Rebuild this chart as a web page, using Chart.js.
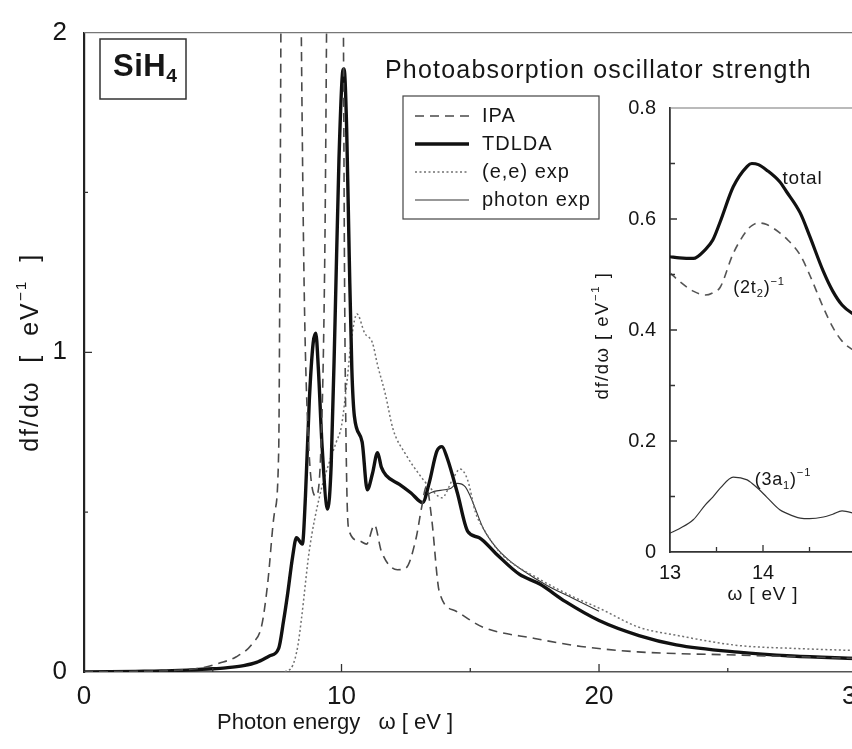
<!DOCTYPE html>
<html>
<head>
<meta charset="utf-8">
<script src="https://cdn.jsdelivr.net/npm/chart.js@4"></script>
<style>
  html, body { margin: 0; padding: 0; background: #fff; overflow: hidden; }
  #wrap { position: relative; width: 852px; height: 749px; overflow: hidden; background: #fff; }
  #main { position: absolute; left: 0; top: 0; }
  #inset { position: absolute; left: 560px; top: 80px; }
</style>
</head>
<body>
<div id="wrap">
  <canvas id="main" width="880" height="749"></canvas>
  <canvas id="inset" width="320" height="560"></canvas>
</div>
<script>
// ---- main panel: oscillator strength df/dw vs photon energy ----
const ipaEnergy = [0, 2, 3.5, 4.5, 5.27, 5.9, 6.55, 6.9, 7.13, 7.4, 7.56, 7.62, 7.68, 8.0, 8.38, 8.45, 8.55, 8.7, 9.0, 9.2, 9.35, 9.48, 9.8, 10.05, 10.12, 10.2, 10.3, 10.7, 10.97, 11.28, 11.55, 12.17, 12.5, 12.9, 13.1, 13.3, 13.5, 13.8, 14.45, 15.5, 17.5, 19.3, 21.5, 25.4, 29.7, 30];
const ipaValue  = [0, 0.002, 0.005, 0.012, 0.028, 0.047, 0.09, 0.145, 0.275, 0.5, 0.69, 1.5, 2.6, 3.5, 2.6, 1.9, 1.2, 0.75, 0.55, 0.7, 1.3, 2.6, 3.5, 2.4, 1.2, 0.6, 0.44, 0.41, 0.40, 0.46, 0.377, 0.32, 0.325, 0.42, 0.51, 0.58, 0.48, 0.25, 0.19, 0.14, 0.105, 0.08, 0.063, 0.053, 0.043, 0.042];

const tdldaEnergy = [0, 1, 2, 3, 4, 5, 5.5, 6.2, 6.7, 7.2, 7.56, 7.75, 7.9, 8.1, 8.25, 8.48, 8.6, 8.75, 8.9, 9.0, 9.1, 9.25, 9.46, 9.6, 9.75, 9.9, 10.05, 10.1, 10.2, 10.3, 10.4, 10.5, 10.8, 11.0, 11.2, 11.4, 11.55, 11.73, 12.25, 12.7, 13.15, 13.4, 13.7, 13.9, 14.1, 14.5, 14.9, 15.35, 16.0, 16.9, 17.7, 18.7, 20, 21.55, 23, 25.4, 27.5, 30];
const tdldaValue  = [0, 0.001, 0.002, 0.003, 0.006, 0.01, 0.013, 0.02, 0.03, 0.05, 0.074, 0.16, 0.24, 0.36, 0.42, 0.40, 0.55, 0.85, 1.03, 1.06, 0.95, 0.7, 0.51, 0.65, 1.1, 1.6, 1.88, 1.886, 1.7, 1.3, 0.95, 0.8, 0.72, 0.57, 0.62, 0.686, 0.64, 0.615, 0.587, 0.56, 0.53, 0.59, 0.69, 0.705, 0.67, 0.56, 0.44, 0.42, 0.37, 0.306, 0.275, 0.22, 0.161, 0.114, 0.085, 0.062, 0.05, 0.042];

const eeEnergy = [7.8, 8.1, 8.3, 8.45, 8.75, 9.15, 9.5, 9.8, 10.0, 10.2, 10.4, 10.6, 10.9, 11.2, 11.4, 11.7, 12.0, 12.5, 13.0, 13.4, 13.9, 14.3, 14.6, 14.9, 15.2, 15.5, 16.2, 17.7, 19, 20, 21.55, 23, 25.4, 27.5, 30];
const eeValue  = [0, 0.02, 0.08, 0.17, 0.38, 0.55, 0.65, 0.72, 0.77, 0.9, 1.05, 1.12, 1.06, 1.03, 0.96, 0.87, 0.76, 0.68, 0.62, 0.58, 0.545, 0.6, 0.635, 0.6, 0.5, 0.45, 0.37, 0.29, 0.235, 0.2, 0.14, 0.115, 0.083, 0.074, 0.067];

const photonEnergy = [13.2, 13.6, 14.0, 14.25, 14.5, 14.8, 15.0, 15.2, 15.5, 16.0, 16.5, 17.0, 18.0, 19.0, 20.0];
const photonValue  = [0.55, 0.565, 0.57, 0.575, 0.59, 0.58, 0.55, 0.51, 0.45, 0.39, 0.35, 0.32, 0.27, 0.23, 0.19];

const mainXTicks = [0, 10, 20, 30];
const mainYTicks = [0, 1, 2];

// ---- inset: 13-15 eV, total and partial contributions ----
const insetEnergy = [13.0, 13.1, 13.25, 13.38, 13.46, 13.54, 13.68, 13.83, 13.88, 13.95, 14.04, 14.18, 14.25, 14.4, 14.5, 14.65, 14.75, 14.85, 15.0];
const totalValue  = [0.532, 0.530, 0.529, 0.545, 0.562, 0.595, 0.658, 0.695, 0.700, 0.698, 0.688, 0.667, 0.650, 0.611, 0.570, 0.505, 0.470, 0.445, 0.425];
const t2Value     = [0.503, 0.488, 0.470, 0.463, 0.467, 0.477, 0.538, 0.580, 0.588, 0.593, 0.590, 0.575, 0.565, 0.535, 0.500, 0.440, 0.405, 0.380, 0.360];
const a1Value     = [0.034, 0.042, 0.058, 0.085, 0.099, 0.115, 0.135, 0.130, 0.124, 0.114, 0.099, 0.076, 0.070, 0.061, 0.060, 0.063, 0.068, 0.074, 0.069];

const insetXTicks = [13, 14, 15];
const insetYTicks = [0, 0.2, 0.4, 0.6, 0.8];

const FONT = '"Liberation Sans", Arial, Helvetica, sans-serif';
const INK = '#161616';

const pts = (xs, ys) => xs.map((x, i) => ({ x, y: ys[i] }));

// text made of normal / sub / sup pieces
function richWidth(ctx, parts, size, spacing) {
  let w = 0;
  ctx.letterSpacing = (spacing || 0) + 'px';
  parts.forEach(p => {
    const s = (p.sub || p.sup) ? size * 0.62 : size;
    ctx.font = `${p.bold ? 'bold ' : ''}${s}px ${FONT}`;
    w += ctx.measureText(p.t).width;
  });
  return w;
}
function drawRich(ctx, parts, x, y, size, align, spacing) {
  const w = richWidth(ctx, parts, size, spacing);
  let cx = align === 'center' ? x - w / 2 : x;
  ctx.textBaseline = 'middle';
  ctx.textAlign = 'left';
  parts.forEach(p => {
    const s = (p.sub || p.sup) ? size * 0.62 : size;
    ctx.font = `${p.bold ? 'bold ' : ''}${s}px ${FONT}`;
    const dy = p.sub ? size * 0.32 : p.sup ? -size * 0.38 : 0;
    ctx.fillText(p.t, cx, y + dy);
    cx += ctx.measureText(p.t).width;
  });
  ctx.letterSpacing = '0px';
}

function inwardTicks(ctx, chart, xMajor, xMinor, yMajor, yMinor, major, minor) {
  const { x, y } = chart.scales;
  const a = chart.chartArea;
  ctx.save();
  ctx.strokeStyle = '#333';
  ctx.lineWidth = 1.3;
  ctx.beginPath();
  xMajor.forEach(v => { const px = x.getPixelForValue(v); ctx.moveTo(px, a.bottom); ctx.lineTo(px, a.bottom - major); });
  xMinor.forEach(v => { const px = x.getPixelForValue(v); ctx.moveTo(px, a.bottom); ctx.lineTo(px, a.bottom - minor); });
  yMajor.forEach(v => { const py = y.getPixelForValue(v); ctx.moveTo(a.left, py); ctx.lineTo(a.left + major, py); });
  yMinor.forEach(v => { const py = y.getPixelForValue(v); ctx.moveTo(a.left, py); ctx.lineTo(a.left + minor, py); });
  ctx.stroke();
  ctx.restore();
}

const mainDecor = {
  id: 'mainDecor',
  afterDraw(chart) {
    const ctx = chart.ctx;
    const a = chart.chartArea;
    const sx = chart.scales.x, sy = chart.scales.y;
    ctx.save();
    // top frame line
    ctx.strokeStyle = '#777';
    ctx.lineWidth = 1.3;
    ctx.beginPath();
    ctx.moveTo(a.left, a.top); ctx.lineTo(a.right + 30, a.top);
    ctx.stroke();
    inwardTicks(ctx, chart, [10, 20], [5, 15, 25], [1], [0.5, 1.5], 8, 4);

    ctx.fillStyle = INK;
    // molecule label box
    ctx.strokeStyle = '#333';
    ctx.lineWidth = 1.5;
    ctx.strokeRect(100, 39, 86, 60);
    drawRich(ctx, [{ t: 'SiH', bold: true }, { t: '4', sub: true, bold: true }], 113, 67, 31, 'left', 0.5);

    // panel title
    drawRich(ctx, [{ t: 'Photoabsorption oscillator strength' }], 385, 71, 25, 'left', 1.2);

    // axis titles
    drawRich(ctx, [{ t: 'Photon energy   \u03c9 [ eV ]' }], sx.getPixelForValue(9.75), 723, 22, 'center', 0);
    ctx.save();
    ctx.translate(31, sy.getPixelForValue(1.0));
    ctx.rotate(-Math.PI / 2);
    drawRich(ctx, [{ t: 'df/d\u03c9  [  eV' }, { t: '\u22121', sup: true }, { t: '  ]' }], 0, 0, 25, 'center', 2);
    ctx.restore();

    // legend, styles taken from the datasets
    const lx = 403, ly = 96, lw = 196, lh = 123;
    ctx.fillStyle = '#fff';
    ctx.fillRect(lx, ly, lw, lh);
    ctx.strokeStyle = '#444';
    ctx.lineWidth = 1.2;
    ctx.strokeRect(lx, ly, lw, lh);
    chart.data.datasets.forEach((ds, i) => {
      const yy = ly + 20 + i * 28;
      ctx.save();
      ctx.strokeStyle = ds.borderColor;
      ctx.lineWidth = ds.borderWidth;
      ctx.setLineDash(ds.borderDash || []);
      ctx.beginPath();
      ctx.moveTo(lx + 12, yy); ctx.lineTo(lx + 66, yy);
      ctx.stroke();
      ctx.restore();
      ctx.fillStyle = INK;
      drawRich(ctx, [{ t: ds.label }], lx + 79, yy, 20, 'left', 1);
    });
    ctx.restore();
  }
};

new Chart(document.getElementById('main'), {
  type: 'line',
  data: {
    datasets: [
      { label: 'IPA', data: pts(ipaEnergy, ipaValue), borderColor: '#4a4a4a', borderWidth: 1.6, borderDash: [9, 6] },
      { label: 'TDLDA', data: pts(tdldaEnergy, tdldaValue), borderColor: '#111', borderWidth: 3.4 },
      { label: '(e,e) exp', data: pts(eeEnergy, eeValue), borderColor: '#707070', borderWidth: 1.5, borderDash: [2, 2.5] },
      { label: 'photon exp', data: pts(photonEnergy, photonValue), borderColor: '#333', borderWidth: 1.1 }
    ]
  },
  options: {
    responsive: false,
    animation: false,
    devicePixelRatio: 1,
    layout: { padding: { top: 25, right: 23, left: 0, bottom: 0 } },
    elements: { point: { radius: 0 }, line: { cubicInterpolationMode: 'monotone' } },
    plugins: { legend: { display: false }, tooltip: { enabled: false } },
    scales: {
      x: {
        type: 'linear', min: 0, max: 30,
        afterFit: s => { s.height = 77; },
        afterBuildTicks: s => { s.ticks = mainXTicks.map(v => ({ value: v })); },
        ticks: { padding: 9, maxRotation: 0, color: INK, font: { family: FONT, size: 26 } },
        grid: { drawOnChartArea: false, drawTicks: false },
        border: { color: '#555', width: 1.6 }
      },
      y: {
        min: 0, max: 2,
        afterFit: s => { s.width = 84; },
        afterBuildTicks: s => { s.ticks = mainYTicks.map(v => ({ value: v })); },
        ticks: { padding: 17, color: INK, font: { family: FONT, size: 26 } },
        grid: { drawOnChartArea: false, drawTicks: false },
        border: { color: '#222', width: 2.2 }
      }
    }
  },
  plugins: [mainDecor]
});

const insetDecor = {
  id: 'insetDecor',
  afterDraw(chart) {
    const ctx = chart.ctx;
    const a = chart.chartArea;
    const sx = chart.scales.x, sy = chart.scales.y;
    ctx.save();
    ctx.strokeStyle = '#777';
    ctx.lineWidth = 1.2;
    ctx.beginPath();
    ctx.moveTo(a.left, a.top); ctx.lineTo(a.right + 30, a.top);
    ctx.stroke();
    inwardTicks(ctx, chart, [14, 15], [13.5, 14.5], [0.2, 0.4, 0.6], [0.1, 0.3, 0.5, 0.7], 7, 5);

    ctx.fillStyle = INK;
    drawRich(ctx, [{ t: 'total' }], sx.getPixelForValue(14.21), sy.getPixelForValue(0.672), 19, 'left', 0.8);
    drawRich(ctx, [{ t: '(2t' }, { t: '2', sub: true }, { t: ')' }, { t: '\u22121', sup: true }], sx.getPixelForValue(13.68), sy.getPixelForValue(0.475), 18, 'left', 0.8);
    drawRich(ctx, [{ t: '(3a' }, { t: '1', sub: true }, { t: ')' }, { t: '\u22121', sup: true }], sx.getPixelForValue(13.91), sy.getPixelForValue(0.13), 18, 'left', 0.8);

    drawRich(ctx, [{ t: '\u03c9 [ eV ]' }], (a.left + a.right) / 2, a.bottom + 43, 19, 'center', 0.8);
    ctx.save();
    ctx.translate(a.left - 67, sy.getPixelForValue(0.39));
    ctx.rotate(-Math.PI / 2);
    drawRich(ctx, [{ t: 'df/d\u03c9 [ eV' }, { t: '\u22121', sup: true }, { t: ' ]' }], 0, 0, 18.5, 'center', 1.5);
    ctx.restore();
    ctx.restore();
  }
};

new Chart(document.getElementById('inset'), {
  type: 'line',
  data: {
    datasets: [
      { label: 'total', data: pts(insetEnergy, totalValue), borderColor: '#111', borderWidth: 3.2 },
      { label: '(2t2)-1', data: pts(insetEnergy, t2Value), borderColor: '#555', borderWidth: 1.6, borderDash: [8, 6] },
      { label: '(3a1)-1', data: pts(insetEnergy, a1Value), borderColor: '#333', borderWidth: 1.2 }
    ]
  },
  options: {
    responsive: false,
    animation: false,
    devicePixelRatio: 1,
    layout: { padding: { top: 28, right: 24, left: 0, bottom: 0 } },
    elements: { point: { radius: 0 }, line: { cubicInterpolationMode: 'monotone' } },
    plugins: { legend: { display: false }, tooltip: { enabled: false } },
    scales: {
      x: {
        type: 'linear', min: 13, max: 15,
        afterFit: s => { s.height = 88; },
        afterBuildTicks: s => { s.ticks = insetXTicks.map(v => ({ value: v })); },
        ticks: { padding: 9, maxRotation: 0, color: INK, font: { family: FONT, size: 20 },
                 callback: v => (v < 15 ? String(v) : '') },
        grid: { drawOnChartArea: false, drawTicks: false },
        border: { color: '#333', width: 1.8 }
      },
      y: {
        min: 0, max: 0.8,
        afterFit: s => { s.width = 110; },
        afterBuildTicks: s => { s.ticks = insetYTicks.map(v => ({ value: v })); },
        ticks: { padding: 14, color: INK, font: { family: FONT, size: 20 },
                 callback: v => (v === 0 ? '0' : v.toFixed(1)) },
        grid: { drawOnChartArea: false, drawTicks: false },
        border: { color: '#333', width: 1.8 }
      }
    }
  },
  plugins: [insetDecor]
});
</script>
</body>
</html>
